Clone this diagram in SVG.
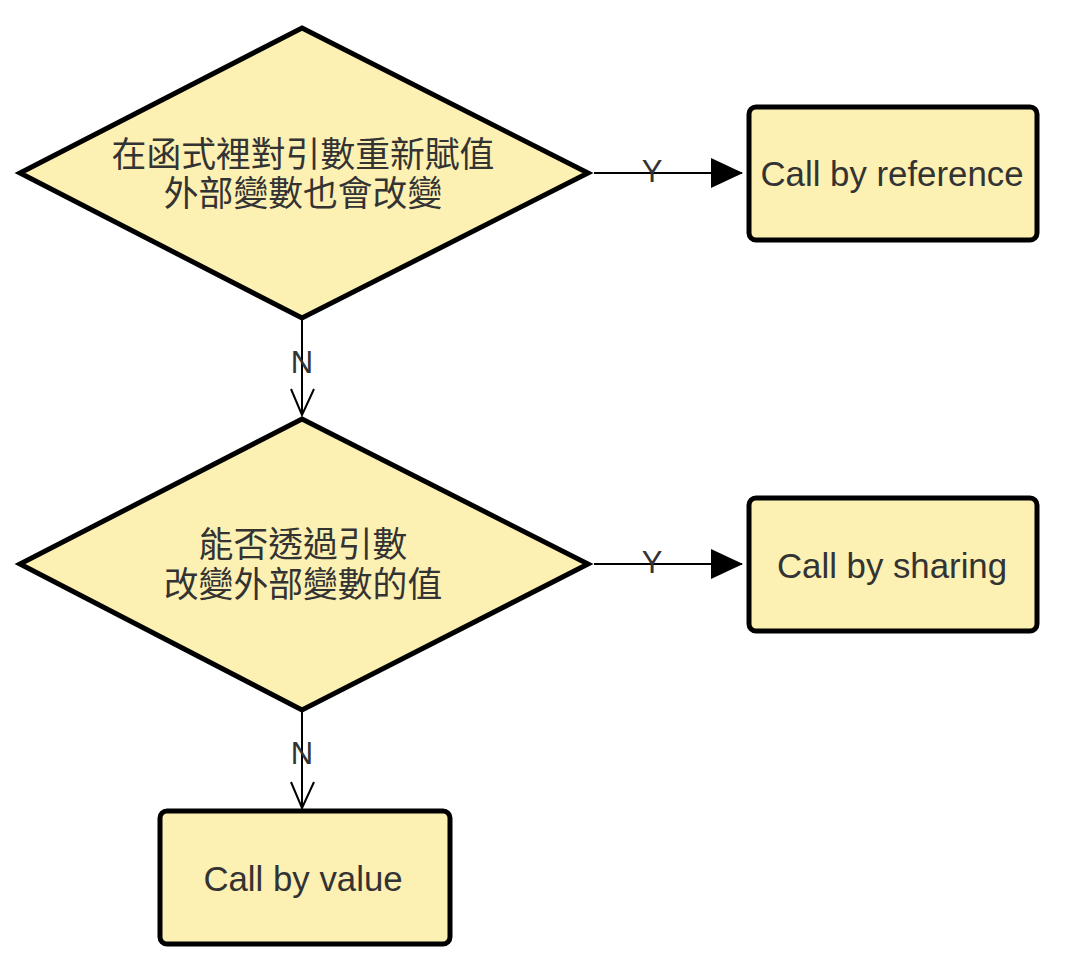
<svg xmlns="http://www.w3.org/2000/svg" width="1066" height="964" viewBox="0 0 1066 964">
<defs>
<style>
.node{fill:#FCF0B2;stroke:#000;stroke-width:5;stroke-linejoin:miter}
.box{fill:#FCF0B2;stroke:#000;stroke-width:5}
.t{font-family:"Liberation Sans","Noto Sans CJK TC",sans-serif;font-size:34.8px;fill:#333;text-anchor:middle;dominant-baseline:central}
.lbl{font-family:"Liberation Sans",Arial,sans-serif;font-size:31px;fill:#333;text-anchor:middle;dominant-baseline:central}
.edge{stroke:#000;stroke-width:2;fill:none}
</style>
<marker id="tri" viewBox="0 0 32 30" refX="31" refY="15" markerWidth="32" markerHeight="30" markerUnits="userSpaceOnUse" orient="auto">
<path d="M0,0 L32,15 L0,30 Z" fill="#000"/>
</marker>
</defs>
<rect width="1066" height="964" fill="#fff"/>
<g id="connectors">
<line class="edge" x1="594" y1="173" x2="742" y2="173" marker-end="url(#tri)"/>
<line class="edge" x1="594" y1="564" x2="742" y2="564" marker-end="url(#tri)"/>
<path class="edge" d="M302,318 L302,415" />
<path class="edge" d="M291,389 L302,415 L314,389"/>
<path class="edge" d="M302,710 L302,808" />
<path class="edge" d="M291,782 L302,808 L314,782"/>
<text class="lbl" x="652" y="171">Y</text>
<text class="lbl" x="652" y="562">Y</text>
<text class="lbl" x="302" y="362">N</text>
<text class="lbl" x="302" y="753">N</text>
</g>
<g id="d1">
<polygon class="node" points="302,28 588,173 302,318 20,173"/>
<text class="t" x="303" y="154">在函式裡對引數重新賦值</text>
<text class="t" x="303" y="193">外部變數也會改變</text>
</g>
<g id="r1">
<rect class="box" x="749" y="107" width="288" height="133" rx="7"/>
<text class="t" x="892" y="173">Call by reference</text>
</g>
<g id="d2">
<polygon class="node" points="302,419 588,564 302,710 20,564"/>
<text class="t" x="303" y="544">能否透過引數</text>
<text class="t" x="303" y="584">改變外部變數的值</text>
</g>
<g id="r2">
<rect class="box" x="749" y="498" width="288" height="133" rx="7"/>
<text class="t" x="892" y="565">Call by sharing</text>
</g>
<g id="r3">
<rect class="box" x="160" y="811" width="290" height="133" rx="7"/>
<text class="t" x="303" y="878">Call by value</text>
</g>
</svg>
